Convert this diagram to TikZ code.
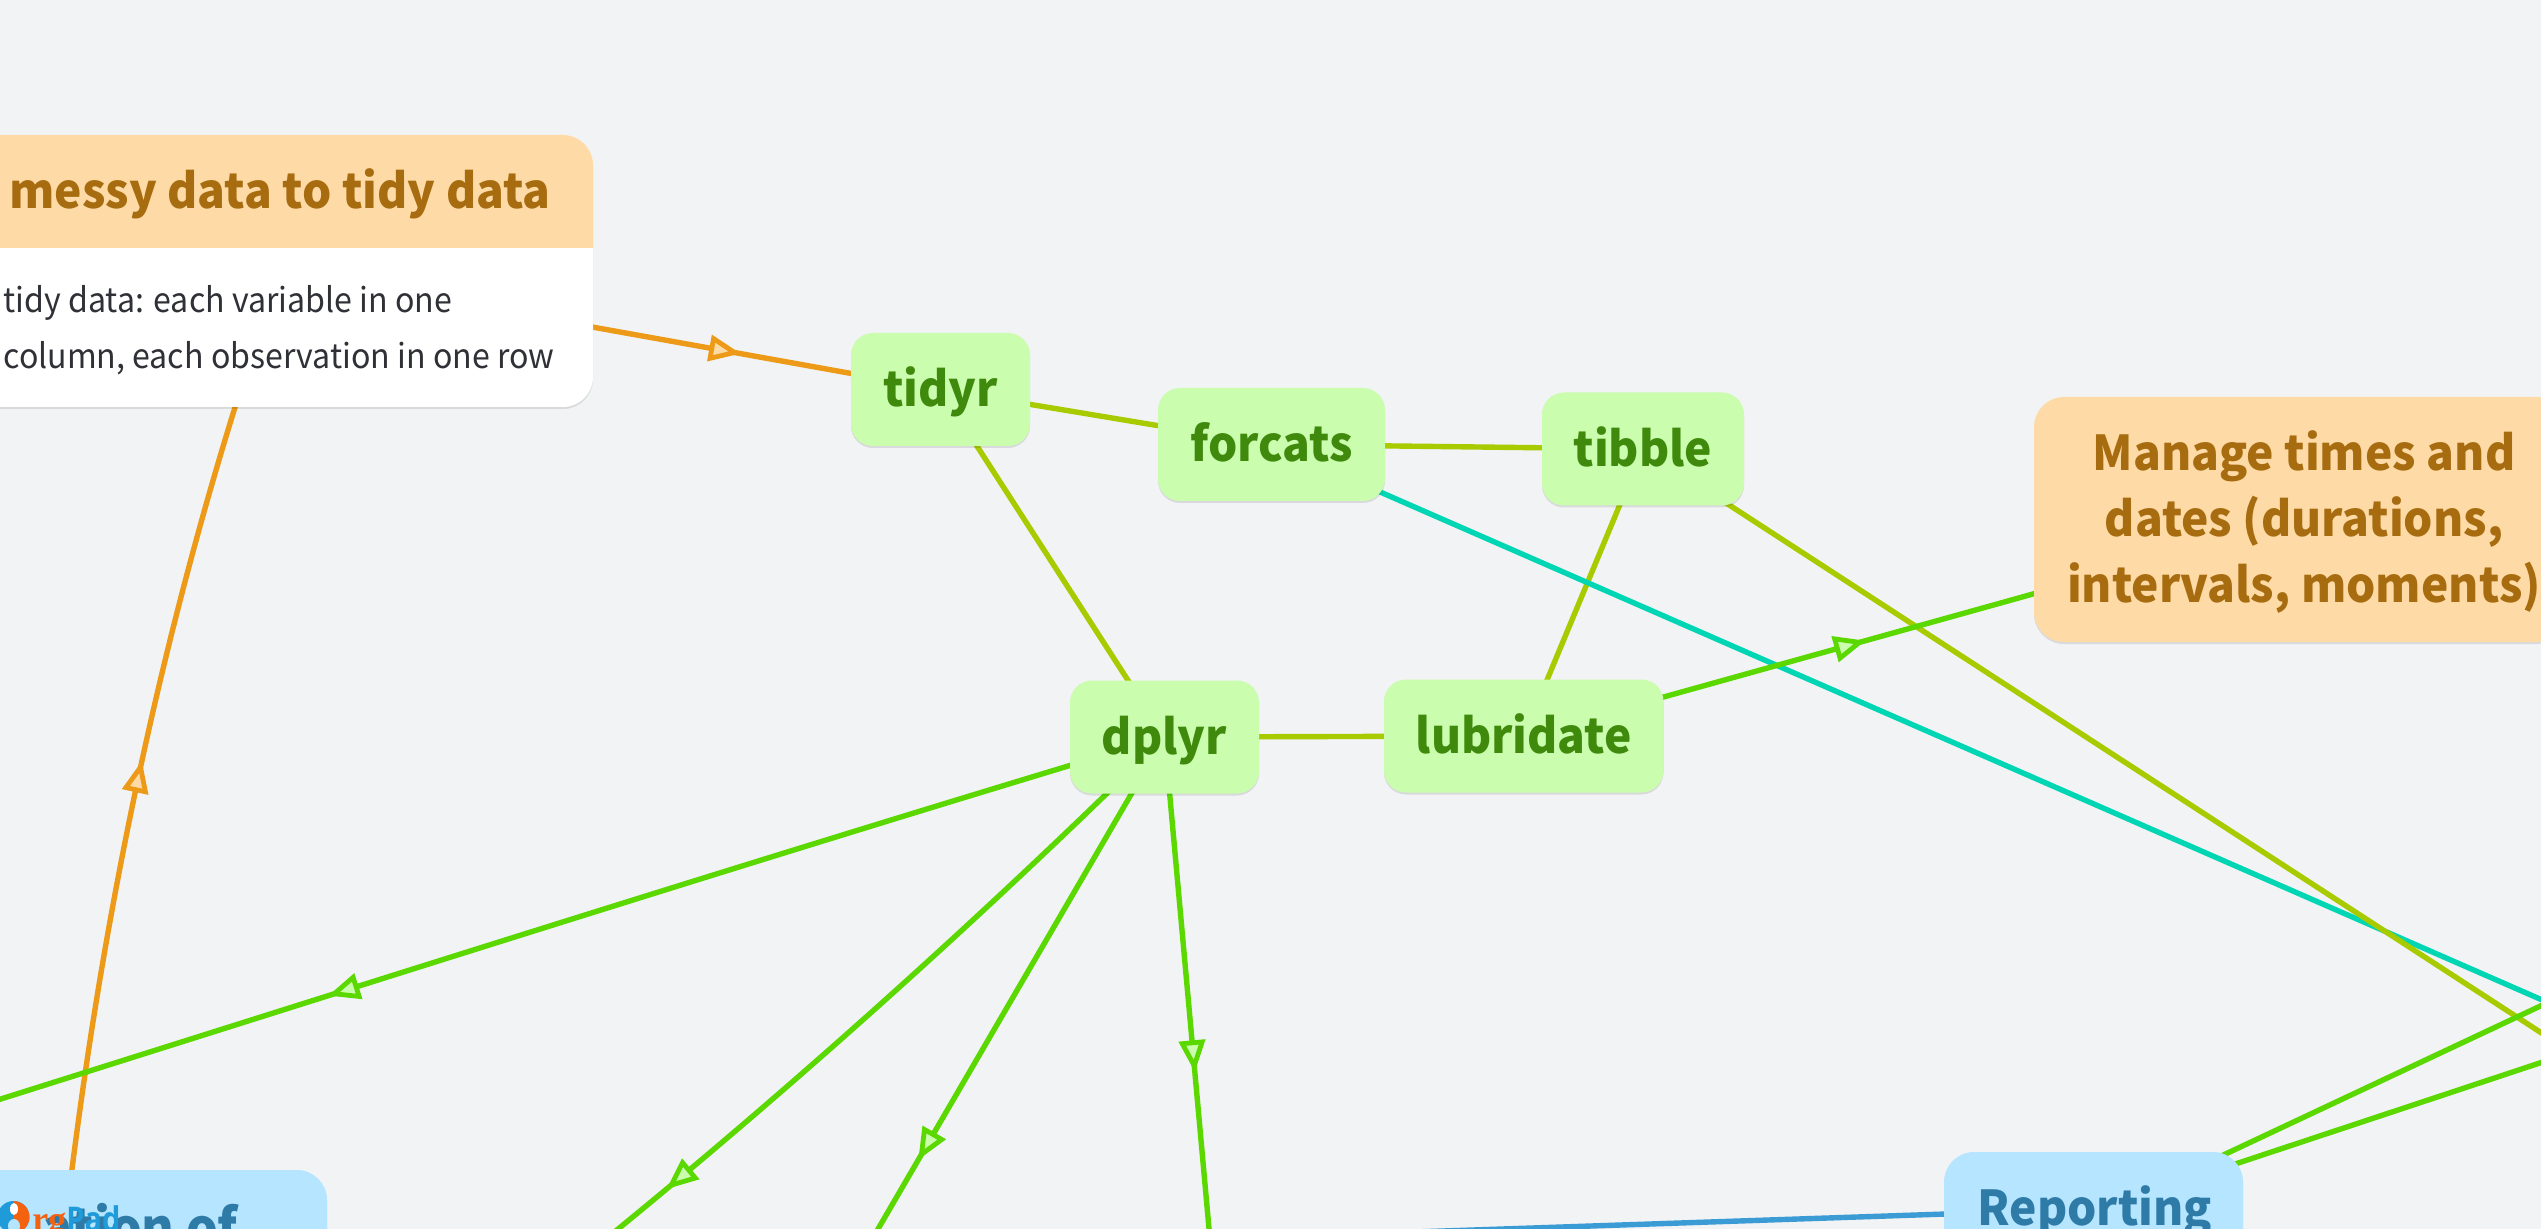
\documentclass[tikz,border=0pt]{standalone}
\usepackage{fontspec}
\newfontfamily\nsc[FakeStretch=0.96]{Noto Sans CJK SC}
\newfontfamily\nscbody[FakeStretch=0.945]{Noto Sans CJK SC}
\newfontfamily\logoserif{Liberation Serif}
\newfontfamily\logosans[FakeStretch=0.85]{Open Sans}
\usetikzlibrary{shadows,decorations.markings}
\pgfdeclarelayer{edges}
\pgfsetlayers{edges,main}
\definecolor{bgc}{HTML}{F2F3F5}
\definecolor{gfill}{HTML}{CAFDAD}
\definecolor{gtext}{HTML}{3F8A0C}
\definecolor{ofill}{HTML}{FEDBA6}
\definecolor{otext}{HTML}{A86C10}
\definecolor{bfill}{HTML}{B6E5FF}
\definecolor{btext}{HTML}{2E7BA8}
\definecolor{cgreen}{HTML}{5AD800}
\definecolor{colive}{HTML}{A8CB00}
\definecolor{cteal}{HTML}{00D5B4}
\definecolor{corange}{HTML}{EC9A17}
\definecolor{cblue}{HTML}{3A9BD5}
\definecolor{bodyc}{HTML}{2F3136}
\definecolor{logoblue}{HTML}{1F9BD9}
\definecolor{logoorange}{HTML}{F5620F}
\tikzset{
  x=0.5pt,y=-0.5pt,
  softshadow/.style={drop shadow={shadow xshift=0pt,shadow yshift=-1pt,opacity=.1,fill=black}},
  pkg/.style={rectangle,rounded corners=11pt,fill=gfill,softshadow,inner sep=0pt,minimum height=56.5pt,
    text=gtext,text height=17.5pt,text depth=0pt,font=\nsc\bfseries\fontsize{24}{33}\selectfont},
  topic/.style={rectangle,rounded corners=15pt,softshadow,inner sep=0pt},
  orangetitle/.style={text=otext,inner sep=0pt,font=\nsc\bfseries\fontsize{24}{33}\selectfont},
  bluetitle/.style={text=btext,inner sep=0pt,font=\nsc\bfseries\fontsize{24}{33}\selectfont},
  bodytext/.style={text=bodyc,inner sep=0pt,font=\nscbody\fontsize{17}{28}\selectfont},
  link/.style={line width=2.7pt},
  tri/.style n args={3}{postaction={decorate,decoration={markings,
    mark=at position #1 with {\draw[draw=#2,fill=#3,line width=2.4pt,line join=miter,miter limit=20]
      (-3pt,0pt) -- (-14.5pt,5pt) -- (-14.5pt,-5pt) -- cycle;}}}},
}
\begin{document}
\begin{tikzpicture}
\useasboundingbox (0,0) rectangle (2541,1229);
% nodes
\node[topic,fill=white,minimum width=313pt,minimum height=136pt] (messy) at (280,271) {};
\fill[ofill,rounded corners=15pt] (-33,248) -- (-33,135) -- (593,135) [sharp corners] -- (593,248) -- cycle;
\node[orangetitle,anchor=base] (messytitle) at (280,209) {messy data to tidy data};
\node[bodytext,anchor=base west] (messyone) at (3,312.5) {tidy data: each variable in one};
\node[bodytext,anchor=base west] (messytwo) at (3,368.5) {column, each observation in one row};
\node[pkg,minimum width=89.5pt] (tidyr) at (940.5,389.5) {tidyr};
\node[pkg,minimum width=113.5pt] (forcats) at (1271.5,444.5) {forcats};
\node[pkg,minimum width=101pt] (tibble) at (1643,449) {tibble};
\node[pkg,minimum width=94.5pt] (dplyr) at (1164.5,737) {dplyr};
\node[pkg,minimum width=139.75pt] (lubridate) at (1523.75,736) {lubridate};
\node[topic,fill=ofill,minimum width=266pt,minimum height=122.5pt] (manage) at (2300,519.5) {};
\node[orangetitle,align=center] (managetitle) at (2304,522.5)
  {Manage times and\\dates (durations,\\intervals, moments)};
\node[topic,fill=bfill,minimum width=149.5pt,minimum height=57pt] (reporting) at (2093.5,1209) {};
\node[bluetitle,anchor=base] (reportingtitle) at (2095,1225) {Reporting};
\node[topic,fill=bfill,minimum width=270pt,minimum height=130pt] (lefttopic) at (57,1300) {};
\node[bluetitle,anchor=base east,font=\nsc\bfseries\fontsize{26}{33}\selectfont] (lefttitle) at (238,1246) {ation of};
% logo
\fill[logoblue] (13.5,1217) circle[radius=16];
\fill[logoorange] (13.5,1201) arc[start angle=-90,end angle=90,radius=16];
\fill[white] (14,1209) ellipse[x radius=4,y radius=6];
\fill[bfill] (14,1226) ellipse[x radius=6,y radius=7];
\node[anchor=base west,inner sep=0pt,text=logoorange,font=\logoserif\bfseries\fontsize{18}{18}\selectfont] (logorg) at (32,1231) {rg};
\node[anchor=base west,inner sep=0pt,text=logoblue,font=\logosans\bfseries\fontsize{17}{17}\selectfont] (logopad) at (66,1231) {Pad};
% free ends
\coordinate (tealend) at (2700,1069);
\coordinate (oliveend) at (2700,1136);
\coordinate (greenone) at (2600,978);
\coordinate (greentwo) at (2600,1043);
\coordinate (blueend) at (1000,1246);
\coordinate (leftend) at (-50,1115);
\coordinate (downone) at (560,1276);
\coordinate (downtwo) at (800,1363);
\coordinate (downthree) at (1220,1350);
\begin{pgfonlayer}{edges}
\fill[bgc] (0,0) rectangle (2541,1229);
\draw[link,colive] (tidyr.center) -- (forcats.center);
\draw[link,colive] (forcats.center) -- (tibble.center);
\draw[link,colive] (tidyr.center) -- (dplyr.center);
\draw[link,colive] (tibble.center) -- (lubridate.center);
\draw[link,colive] (dplyr.center) -- (lubridate.center);
\draw[link,cteal] (forcats.center) -- (tealend);
\draw[link,colive] (tibble.center) -- (oliveend);
\draw[link,cgreen] ([yshift=-3.5pt]reporting.center) -- (greenone);
\draw[link,cgreen] ([yshift=-1pt]reporting.center) -- (greentwo);
\draw[link,cblue] (reporting.center) -- (blueend);
\draw[link,corange,tri={0.697}{corange}{ofill}] (messy.center) -- (tidyr.center);
\draw[link,corange,tri={0.517}{corange}{ofill}] (lefttopic.center) .. controls (92,957) and (160,614) .. (messy.center);
\draw[link,cgreen,tri={0.44}{cgreen}{gfill}] (lubridate.center) -- (manage.center);
\draw[link,cgreen,tri={0.688}{cgreen}{gfill}] (dplyr.center) .. controls (764,857) and (385,978) .. (leftend);
\draw[link,cgreen,tri={0.83}{cgreen}{gfill}] (dplyr.center) .. controls (1005,895) and (790,1092) .. (downone);
\draw[link,cgreen,tri={0.675}{cgreen}{gfill}] (dplyr.center) -- (downtwo);
\draw[link,cgreen,tri={0.546}{cgreen}{gfill}] (dplyr.center) -- (downthree);
\end{pgfonlayer}
\end{tikzpicture}
\end{document}
